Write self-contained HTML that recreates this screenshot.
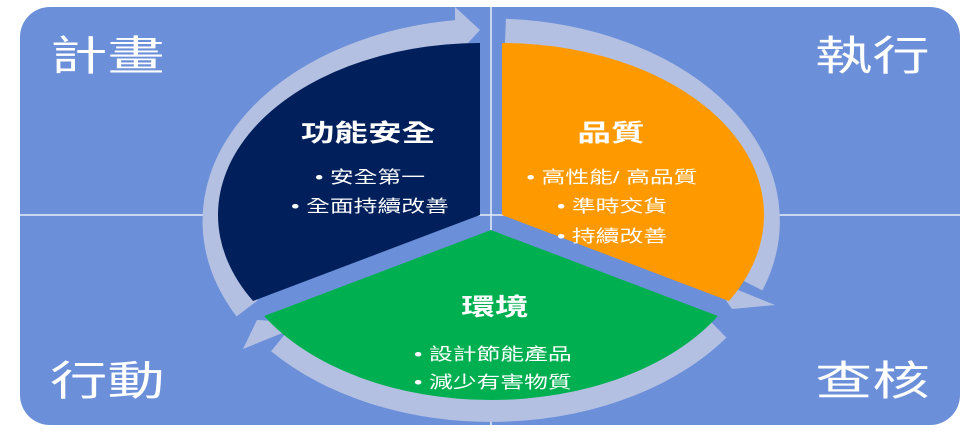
<!DOCTYPE html>
<html><head><meta charset="utf-8"><style>
html,body{margin:0;padding:0;background:#fff;}
svg{display:block;}
text{font-family:"Liberation Sans","Noto Sans CJK TC",sans-serif;fill:#fff;}
</style></head><body>
<svg width="976" height="435" viewBox="0 0 976 435" xmlns="http://www.w3.org/2000/svg">
<rect x="20" y="7" width="940" height="418" rx="30" fill="#6b8fd9"/>
<line x1="491" y1="7" x2="491" y2="425" stroke="#e8eefa" stroke-width="1.5"/>
<line x1="20" y1="215" x2="960" y2="215" stroke="#e8eefa" stroke-width="1.5"/>

<g fill="none" stroke="#b4c0e2" stroke-width="27">
<path d="M247.3,308.3 A276,189 0 0 1 457.4,33.4"/>
<path d="M505.4,32.3 A276,189 0 0 1 750.4,284.3"/>
<path d="M717,328 A276,189 0 0 1 279.6,340.8"/>
</g>
<g fill="#b4c0e2">
<polygon points="455,7 480,30 455,57"/>
<polygon points="711,279 775,305 732,309"/>
<polygon points="257,320 307,323 243,349"/>
</g>

<path d="M502,215 L502,43 A262,172 0 0 1 728.9,301 Z" fill="#ff9900"/>
<path d="M480,215 L253.1,301 A262,172 0 0 1 480,43 Z" fill="#001f5b"/>
<path d="M491,230 L717.9,316 A262,168 0 0 1 264.1,316 Z" fill="#00b050"/>

<g font-size="41">
<text transform="translate(50,70) scale(1.4,1)">計畫</text>
<text transform="translate(815,70) scale(1.4,1)">執行</text>
<text transform="translate(50,395) scale(1.4,1)">行動</text>
<text transform="translate(815,395) scale(1.4,1)">查核</text>
</g>

<g font-weight="bold" font-size="24" text-anchor="middle">
<text transform="translate(368,141) scale(1.4,1)">功能安全</text>
<text transform="translate(611,141) scale(1.4,1)">品質</text>
<text transform="translate(495,315) scale(1.4,1)">環境</text>
</g>
<g font-size="17" text-anchor="middle">
<text transform="translate(370,183) scale(1.4,1)">• 安全第一</text>
<text transform="translate(370,212) scale(1.4,1)">• 全面持續改善</text>
<text transform="translate(612,183) scale(1.4,1)">• 高性能/ 高品質</text>
<text transform="translate(612,212) scale(1.4,1)">• 準時交貨</text>
<text transform="translate(612,242) scale(1.4,1)">• 持續改善</text>
</g>
<g font-size="17">
<text transform="translate(414,360) scale(1.4,1)">• 設計節能產品</text>
<text transform="translate(414,388) scale(1.4,1)">• 減少有害物質</text>
</g>
</svg>
</body></html>
